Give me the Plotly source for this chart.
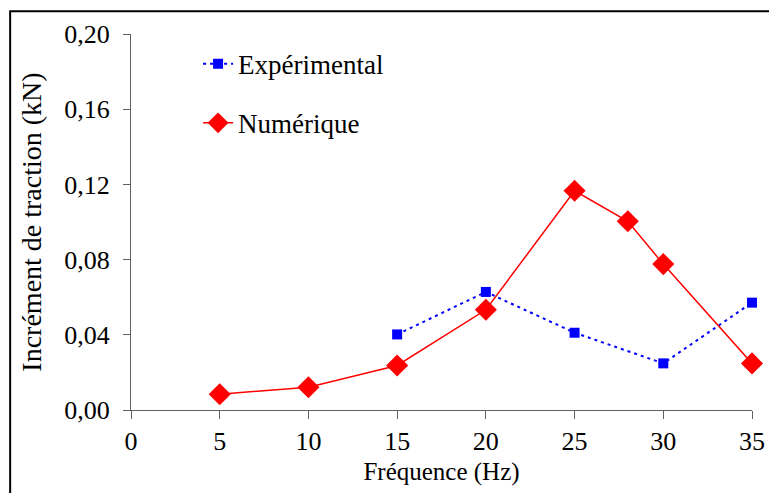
import plotly.graph_objects as go

# frequency (Hz) and traction increment (kN)
freq_exp = [15, 20, 25, 30, 35]
trac_exp = [0.0402, 0.0628, 0.0411, 0.0248, 0.0571]

freq_num = [5, 10, 15, 20, 25, 28, 30, 35]
trac_num = [0.0084, 0.0121, 0.0237, 0.0533, 0.1166, 0.1004, 0.0776, 0.0248]

FONT = "Liberation Serif"

fig = go.Figure()

fig.add_trace(
    go.Scatter(
        x=freq_exp,
        y=trac_exp,
        mode="lines+markers",
        name="Expérimental",
        legendgroup="exp",
        cliponaxis=False,
        line={"color": "#0000ff", "width": 2, "dash": "3px,4px"},
        marker={"symbol": "square", "size": 10, "color": "#0000ff"},
    )
)

fig.add_trace(
    go.Scatter(
        x=freq_num,
        y=trac_num,
        mode="lines+markers",
        name="Numérique",
        legendgroup="num",
        cliponaxis=False,
        line={"color": "#ff0000", "width": 1.5},
        marker={"symbol": "diamond", "size": 17, "color": "#ff0000"},
    )
)

axis_common = dict(
    showgrid=False,
    zeroline=False,
    showline=True,
    linecolor="#606060",
    linewidth=1,
    ticks="outside",
    tickcolor="#606060",
    tickfont={"family": FONT, "size": 26, "color": "black"},
)

fig.update_xaxes(
    range=[0, 35],
    dtick=5,
    ticklen=8,
    ticklabelstandoff=0,
    title={"text": "Fréquence (Hz)", "font": {"family": FONT, "size": 25, "color": "black"}, "standoff": 7},
    **axis_common,
)
fig.update_yaxes(
    range=[0, 0.2],
    dtick=0.04,
    tickformat=".2f",
    ticklen=7,
    ticklabelstandoff=8,
    title={"text": "Incrément de traction (kN)", "font": {"family": FONT, "size": 28, "color": "black"}, "standoff": 14},
    **axis_common,
)

# outer frame of the original figure
fig.add_shape(
    type="rect",
    xref="paper",
    yref="paper",
    x0=-0.1946,
    x1=1.05,
    y0=-0.25,
    y1=1.0607,
    line={"color": "black", "width": 2},
    layer="below",
)

# the page body adds an 8px offset, so the figure is 8px smaller on each side
fig.update_layout(
    width=769,
    height=485,
    margin={"l": 123, "r": 19, "t": 24, "b": 82},
    paper_bgcolor="white",
    plot_bgcolor="white",
    separators=", ",
    font={"family": FONT, "color": "black"},
    legend={
        "x": 0.108,
        "y": 0.985,
        "xanchor": "left",
        "yanchor": "top",
        "font": {"family": FONT, "size": 27, "color": "black"},
        "tracegroupgap": 21,
        "bgcolor": "rgba(0,0,0,0)",
    },
)

fig.write_html("out.html")
